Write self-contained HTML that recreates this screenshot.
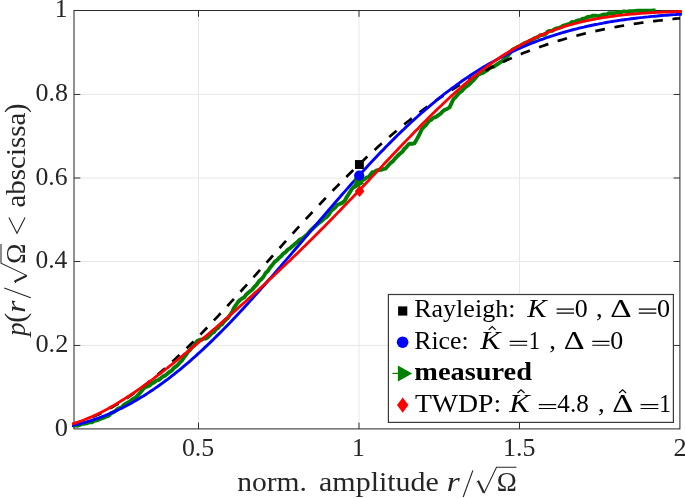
<!DOCTYPE html><html><head><meta charset="utf-8"><style>html,body{margin:0;padding:0;background:#fff}svg{display:block;position:absolute;left:0;top:0;will-change:transform}text{font-family:"Liberation Serif",serif}</style></head><body>
<svg width="685" height="498" viewBox="0 0 685 498">
<rect width="685" height="498" fill="#fff"/>
<defs><clipPath id="c"><rect x="72.0" y="7.5" width="609.9" height="423.4"/></clipPath></defs>
<path d="M198.50,10.5 V428.9 M359.00,10.5 V428.9 M519.50,10.5 V428.9 M74.0,345.45 H679.9 M74.0,261.50 H679.9 M74.0,178.00 H679.9 M74.0,94.45 H679.9" stroke="#e7e7e7" stroke-width="1" fill="none"/>
<path d="M198.50,428.9 v-6.3 M198.50,10.5 v6.3 M359.00,428.9 v-6.3 M359.00,10.5 v6.3 M519.50,428.9 v-6.3 M519.50,10.5 v6.3 M74.0,345.45 h6.3 M679.9,345.45 h-6.3 M74.0,261.50 h6.3 M679.9,261.50 h-6.3 M74.0,178.00 h6.3 M679.9,178.00 h-6.3 M74.0,94.45 h6.3 M679.9,94.45 h-6.3" stroke="#2e2e2e" stroke-width="1" fill="none"/>
<rect x="74.0" y="10.5" width="605.9" height="418.4" fill="none" stroke="#2e2e2e" stroke-width="1.05"/>
<g clip-path="url(#c)" fill="none" stroke-linejoin="round">
<path d="M72.5,426.2 L75.0,425.3 L77.5,425.7 L80.0,424.8 L82.4,423.7 L84.8,423.7 L87.1,423.3 L89.5,422.3 L91.9,422.3 L94.3,420.8 L96.6,420.3 L99.0,419.6 L101.5,418.4 L104.0,417.6 L106.5,416.4 L108.7,415.8 L110.8,413.4 L113.0,412.4 L115.2,411.2 L117.4,409.1 L119.6,408.0 L121.8,407.3 L124.0,404.8 L126.2,403.4 L128.4,402.3 L130.6,400.8 L132.8,399.0 L135.0,397.9 L137.2,395.8 L140.1,392.8 L143.0,389.2 L145.2,387.1 L147.4,386.6 L149.6,385.5 L151.8,383.4 L154.0,382.4 L156.2,380.7 L158.3,380.2 L160.5,378.6 L162.9,376.4 L165.2,375.6 L167.6,373.6 L170.0,371.6 L172.0,370.3 L174.0,367.8 L176.0,366.4 L178.0,364.8 L180.0,362.3 L182.0,360.4 L184.0,357.2 L186.0,354.9 L188.0,351.9 L190.0,350.0 L192.0,347.3 L194.0,345.8 L196.0,342.5 L198.0,340.5 L200.0,339.8 L202.0,339.7 L204.0,338.5 L206.0,338.5 L208.0,337.1 L210.0,335.2 L212.0,333.0 L214.0,332.0 L216.0,329.2 L218.0,328.0 L220.0,325.3 L222.0,324.4 L224.0,321.5 L226.0,319.5 L228.0,317.9 L230.0,315.0 L232.0,312.2 L234.0,307.8 L236.0,305.0 L238.0,302.0 L240.0,300.0 L242.0,298.5 L244.0,297.5 L246.0,294.8 L248.0,293.1 L250.1,291.3 L252.1,289.8 L254.1,287.2 L256.5,284.8 L258.9,281.3 L261.3,279.2 L263.7,276.4 L265.7,272.9 L267.8,271.1 L269.8,268.0 L272.2,265.1 L274.6,261.9 L276.8,260.3 L278.9,258.1 L281.1,256.2 L283.2,253.7 L285.4,252.3 L287.8,249.6 L290.2,248.1 L292.6,246.1 L295.0,243.9 L297.4,241.9 L299.9,239.5 L302.3,238.5 L304.7,236.6 L307.1,234.6 L309.5,231.6 L311.9,229.2 L314.3,227.0 L316.3,225.2 L318.3,223.5 L320.4,221.9 L322.4,220.5 L324.4,218.3 L326.4,217.3 L328.7,214.8 L331.0,211.0 L333.1,209.3 L335.1,207.6 L337.2,204.8 L339.6,204.0 L342.1,202.9 L344.5,201.2 L346.9,196.8 L349.3,193.2 L351.7,189.2 L354.1,186.4 L356.5,184.4 L358.9,181.9 L361.3,180.9 L363.8,179.6 L366.2,177.7 L368.6,177.1 L372.2,172.3 L374.4,172.0 L376.6,170.4 L378.8,170.0 L381.0,169.9 L383.2,169.1 L385.4,168.7 L387.8,166.0 L390.3,163.3 L392.7,161.4 L395.1,158.6 L397.5,156.0 L399.9,153.8 L402.3,151.8 L404.3,149.0 L406.3,147.1 L408.3,144.6 L410.3,143.6 L412.3,143.7 L414.3,143.4 L416.7,139.4 L419.2,135.0 L421.6,129.6 L424.0,126.8 L426.4,124.5 L428.8,121.1 L431.2,119.7 L433.6,117.6 L436.0,117.0 L438.4,115.1 L440.6,113.6 L442.9,111.2 L445.1,109.7 L447.4,108.7 L449.6,107.3 L453.5,99.0 L455.5,97.2 L457.6,94.8 L459.6,92.5 L461.7,91.2 L463.7,88.8 L466.1,86.5 L468.5,85.0 L471.0,82.5 L473.4,80.4 L475.8,77.6 L478.2,74.8 L480.6,73.5 L483.0,72.9 L485.4,71.2 L487.8,69.8 L489.8,67.8 L491.8,67.1 L493.9,66.6 L495.9,65.2 L497.9,63.8 L499.9,62.5 L502.3,61.1 L504.7,58.8 L507.1,56.5 L509.6,53.5 L512.0,50.2 L514.0,48.8 L516.0,48.2 L518.0,46.8 L520.0,46.2 L522.0,44.6 L524.0,43.5 L526.0,42.6 L528.0,42.1 L530.0,40.5 L532.0,39.8 L534.0,38.5 L536.0,37.7 L538.0,37.2 L540.0,35.3 L542.0,35.1 L544.0,34.6 L546.0,33.7 L548.0,31.4 L550.0,30.9 L552.2,30.8 L554.4,29.3 L556.6,28.3 L558.8,27.8 L561.0,27.2 L563.2,25.7 L565.3,25.2 L567.5,24.3 L569.6,23.9 L571.8,22.0 L573.9,22.5 L576.0,21.2 L578.2,20.4 L580.5,19.9 L582.8,18.7 L585.0,18.4 L587.6,17.0 L590.3,16.6 L593.1,15.7 L596.0,15.8 L598.2,16.1 L600.4,15.7 L602.6,14.7 L604.7,14.5 L606.8,14.6 L608.9,13.1 L611.0,13.2 L613.2,13.2 L615.5,12.9 L617.8,12.1 L620.0,11.9 L622.0,12.0 L624.0,11.4 L626.0,11.7 L628.0,11.5 L630.0,11.2 L632.5,11.1 L635.1,10.9 L637.6,10.8 L640.0,10.8 L642.3,10.7 L644.6,10.7 L647.0,10.6 L649.1,10.6 L651.2,10.6 L653.4,10.5 L655.5,10.5" stroke="#007f00" stroke-width="3.9"/>
<path d="M70.1,424.8 L72.5,424.2 L74.8,423.5 L77.2,422.8 L79.5,422.1 L81.9,421.3 L84.2,420.4 L86.6,419.5 L88.9,418.6 L91.3,417.6 L93.6,416.6 L96.0,415.6 L98.4,414.5 L100.7,413.3 L103.1,412.2 L105.4,410.9 L107.8,409.7 L110.1,408.4 L112.5,407.1 L114.8,405.7 L117.2,404.3 L119.6,402.8 L121.9,401.4 L124.3,399.9 L126.6,398.3 L129.0,396.7 L131.3,395.1 L133.7,393.4 L136.0,391.7 L138.4,390.0 L140.7,388.3 L143.1,386.5 L145.5,384.6 L147.8,382.8 L150.2,380.9 L152.5,379.0 L154.9,377.1 L157.2,375.1 L159.6,373.1 L161.9,371.1 L164.3,369.0 L166.6,366.9 L169.0,364.8 L171.4,362.7 L173.7,360.5 L176.1,358.3 L178.4,356.1 L180.8,353.9 L183.1,351.6 L185.5,349.4 L187.8,347.1 L190.2,344.8 L192.6,342.4 L194.9,340.1 L197.3,337.7 L199.6,335.3 L202.0,332.9 L204.3,330.5 L206.7,328.0 L209.0,325.6 L211.4,323.1 L213.7,320.6 L216.1,318.1 L218.5,315.6 L220.8,313.1 L223.2,310.6 L225.5,308.0 L227.9,305.5 L230.2,302.9 L232.6,300.3 L234.9,297.8 L237.3,295.2 L239.6,292.6 L242.0,290.0 L244.4,287.4 L246.7,284.8 L249.1,282.1 L251.4,279.5 L253.8,276.9 L256.1,274.3 L258.5,271.6 L260.8,269.0 L263.2,266.4 L265.6,263.7 L267.9,261.1 L270.3,258.5 L272.6,255.8 L275.0,253.2 L277.3,250.6 L279.7,248.0 L282.0,245.3 L284.4,242.7 L286.7,240.1 L289.1,237.5 L291.5,234.9 L293.8,232.3 L296.2,229.7 L298.5,227.1 L300.9,224.6 L303.2,222.0 L305.6,219.4 L307.9,216.9 L310.3,214.3 L312.6,211.8 L315.0,209.3 L317.4,206.8 L319.7,204.3 L322.1,201.8 L324.4,199.3 L326.8,196.9 L329.1,194.4 L331.5,192.0 L333.8,189.5 L336.2,187.1 L338.6,184.7 L340.9,182.3 L343.3,180.0 L345.6,177.6 L348.0,175.3 L350.3,173.0 L352.7,170.6 L355.0,168.3 L357.4,166.1 L359.7,163.8 L362.1,161.6 L364.5,159.3 L366.8,157.1 L369.2,154.9 L371.5,152.8 L373.9,150.6 L376.2,148.5 L378.6,146.3 L380.9,144.2 L383.3,142.1 L385.6,140.1 L388.0,138.0 L390.4,136.0 L392.7,134.0 L395.1,132.0 L397.4,130.0 L399.8,128.1 L402.1,126.1 L404.5,124.2 L406.8,122.3 L409.2,120.5 L411.5,118.6 L413.9,116.8 L416.3,115.0 L418.6,113.2 L421.0,111.4 L423.3,109.6 L425.7,107.9 L428.0,106.2 L430.4,104.5 L432.7,102.8 L435.1,101.2 L437.5,99.5 L439.8,97.9 L442.2,96.3 L444.5,94.8 L446.9,93.2 L449.2,91.7 L451.6,90.2 L453.9,88.7 L456.3,87.2 L458.6,85.7 L461.0,84.3 L463.4,82.9 L465.7,81.5 L468.1,80.1 L470.4,78.8 L472.8,77.4 L475.1,76.1 L477.5,74.8 L479.8,73.5 L482.2,72.3 L484.5,71.0 L486.9,69.8 L489.3,68.6 L491.6,67.4 L494.0,66.2 L496.3,65.1 L498.7,63.9 L501.0,62.8 L503.4,61.7 L505.7,60.7 L508.1,59.6 L510.5,58.6 L512.8,57.5 L515.2,56.5 L517.5,55.5 L519.9,54.5 L522.2,53.6 L524.6,52.6 L526.9,51.7 L529.3,50.8 L531.6,49.9 L534.0,49.0 L536.4,48.2 L538.7,47.3 L541.1,46.5 L543.4,45.7 L545.8,44.9 L548.1,44.1 L550.5,43.3 L552.8,42.5 L555.2,41.8 L557.5,41.1 L559.9,40.4 L562.3,39.7 L564.6,39.0 L567.0,38.3 L569.3,37.6 L571.7,37.0 L574.0,36.3 L576.4,35.7 L578.7,35.1 L581.1,34.5 L583.5,33.9 L585.8,33.3 L588.2,32.8 L590.5,32.2 L592.9,31.7 L595.2,31.2 L597.6,30.6 L599.9,30.1 L602.3,29.6 L604.6,29.1 L607.0,28.7 L609.4,28.2 L611.7,27.8 L614.1,27.3 L616.4,26.9 L618.8,26.4 L621.1,26.0 L623.5,25.6 L625.8,25.2 L628.2,24.8 L630.5,24.5 L632.9,24.1 L635.3,23.7 L637.6,23.4 L640.0,23.0 L642.3,22.7 L644.7,22.4 L647.0,22.0 L649.4,21.7 L651.7,21.4 L654.1,21.1 L656.5,20.8 L658.8,20.5 L661.2,20.3 L663.5,20.0 L665.9,19.7 L668.2,19.5 L670.6,19.2 L672.9,19.0 L675.3,18.7 L677.6,18.5 L680.0,18.3" stroke="#000" stroke-width="2.7" stroke-dasharray="9.8 9.73" stroke-dashoffset="-4.2"/>
<path d="M70.1,425.9 L72.5,425.5 L74.8,424.9 L77.2,424.4 L79.6,423.8 L81.9,423.2 L84.3,422.6 L86.7,421.9 L89.0,421.2 L91.4,420.5 L93.8,419.7 L96.1,418.9 L98.5,418.1 L100.9,417.2 L103.2,416.3 L105.6,415.4 L108.0,414.4 L110.3,413.4 L112.7,412.3 L115.1,411.3 L117.4,410.2 L119.8,409.0 L122.2,407.9 L124.5,406.7 L126.9,405.4 L129.3,404.2 L131.6,402.9 L134.0,401.5 L136.4,400.2 L138.7,398.8 L141.1,397.3 L143.5,395.9 L145.9,394.4 L148.2,392.9 L150.6,391.3 L153.0,389.7 L155.3,388.1 L157.7,386.5 L160.1,384.8 L162.4,383.1 L164.8,381.3 L167.2,379.6 L169.5,377.8 L171.9,375.9 L174.3,374.1 L176.6,372.2 L179.0,370.3 L181.4,368.3 L183.7,366.3 L186.1,364.3 L188.5,362.3 L190.8,360.3 L193.2,358.2 L195.6,356.1 L197.9,353.9 L200.3,351.8 L202.7,349.6 L205.0,347.4 L207.4,345.1 L209.8,342.9 L212.1,340.6 L214.5,338.3 L216.9,335.9 L219.2,333.6 L221.6,331.2 L224.0,328.8 L226.3,326.4 L228.7,323.9 L231.1,321.5 L233.4,319.0 L235.8,316.5 L238.2,314.0 L240.5,311.4 L242.9,308.9 L245.3,306.3 L247.6,303.7 L250.0,301.1 L252.4,298.5 L254.7,295.9 L257.1,293.2 L259.5,290.6 L261.8,287.9 L264.2,285.2 L266.6,282.5 L268.9,279.8 L271.3,277.1 L273.7,274.4 L276.0,271.6 L278.4,268.9 L280.8,266.2 L283.1,263.4 L285.5,260.6 L287.9,257.9 L290.3,255.1 L292.6,252.3 L295.0,249.5 L297.4,246.8 L299.7,244.0 L302.1,241.2 L304.5,238.4 L306.8,235.6 L309.2,232.8 L311.6,230.1 L313.9,227.3 L316.3,224.5 L318.7,221.7 L321.0,218.9 L323.4,216.2 L325.8,213.4 L328.1,210.7 L330.5,207.9 L332.9,205.2 L335.2,202.4 L337.6,199.7 L340.0,197.0 L342.3,194.3 L344.7,191.6 L347.1,188.9 L349.4,186.2 L351.8,183.6 L354.2,180.9 L356.5,178.3 L358.9,175.7 L361.3,173.1 L363.6,170.5 L366.0,167.9 L368.4,165.3 L370.7,162.8 L373.1,160.3 L375.5,157.8 L377.8,155.3 L380.2,152.8 L382.6,150.4 L384.9,147.9 L387.3,145.5 L389.7,143.1 L392.0,140.7 L394.4,138.4 L396.8,136.0 L399.1,133.7 L401.5,131.4 L403.9,129.2 L406.2,126.9 L408.6,124.7 L411.0,122.5 L413.3,120.3 L415.7,118.2 L418.1,116.0 L420.4,113.9 L422.8,111.9 L425.2,109.8 L427.6,107.8 L429.9,105.8 L432.3,103.8 L434.7,101.8 L437.0,99.9 L439.4,98.0 L441.8,96.1 L444.1,94.2 L446.5,92.4 L448.9,90.6 L451.2,88.8 L453.6,87.1 L456.0,85.4 L458.3,83.6 L460.7,82.0 L463.1,80.3 L465.4,78.7 L467.8,77.1 L470.2,75.5 L472.5,74.0 L474.9,72.5 L477.3,71.0 L479.6,69.5 L482.0,68.0 L484.4,66.6 L486.7,65.2 L489.1,63.8 L491.5,62.5 L493.8,61.2 L496.2,59.9 L498.6,58.6 L500.9,57.4 L503.3,56.1 L505.7,54.9 L508.0,53.8 L510.4,52.6 L512.8,51.5 L515.1,50.4 L517.5,49.3 L519.9,48.2 L522.2,47.2 L524.6,46.2 L527.0,45.2 L529.3,44.2 L531.7,43.2 L534.1,42.3 L536.4,41.4 L538.8,40.5 L541.2,39.6 L543.5,38.8 L545.9,37.9 L548.3,37.1 L550.6,36.3 L553.0,35.6 L555.4,34.8 L557.7,34.1 L560.1,33.3 L562.5,32.6 L564.8,32.0 L567.2,31.3 L569.6,30.6 L572.0,30.0 L574.3,29.4 L576.7,28.8 L579.1,28.2 L581.4,27.6 L583.8,27.1 L586.2,26.5 L588.5,26.0 L590.9,25.5 L593.3,25.0 L595.6,24.5 L598.0,24.1 L600.4,23.6 L602.7,23.2 L605.1,22.7 L607.5,22.3 L609.8,21.9 L612.2,21.5 L614.6,21.1 L616.9,20.8 L619.3,20.4 L621.7,20.0 L624.0,19.7 L626.4,19.4 L628.8,19.1 L631.1,18.8 L633.5,18.5 L635.9,18.2 L638.2,17.9 L640.6,17.6 L643.0,17.4 L645.3,17.1 L647.7,16.9 L650.1,16.6 L652.4,16.4 L654.8,16.2 L657.2,16.0 L659.5,15.7 L661.9,15.5 L664.3,15.4 L666.6,15.2 L669.0,15.0 L671.4,14.8 L673.7,14.6 L676.1,14.5 L678.5,14.3 L680.8,14.2 L683.2,14.0" stroke="#0000ff" stroke-width="2.9"/>
<path d="M70.1,424.5 L72.5,423.8 L74.8,423.1 L77.2,422.3 L79.6,421.5 L81.9,420.7 L84.3,419.8 L86.7,418.8 L89.0,417.9 L91.4,416.9 L93.8,415.8 L96.1,414.7 L98.5,413.6 L100.9,412.4 L103.2,411.2 L105.6,409.9 L108.0,408.7 L110.3,407.3 L112.7,406.0 L115.1,404.6 L117.4,403.2 L119.8,401.8 L122.2,400.3 L124.5,398.8 L126.9,397.3 L129.3,395.8 L131.6,394.2 L134.0,392.6 L136.4,391.0 L138.7,389.3 L141.1,387.6 L143.5,386.0 L145.9,384.3 L148.2,382.5 L150.6,380.8 L153.0,379.0 L155.3,377.2 L157.7,375.4 L160.1,373.6 L162.4,371.8 L164.8,369.9 L167.2,368.1 L169.5,366.2 L171.9,364.3 L174.3,362.4 L176.6,360.5 L179.0,358.6 L181.4,356.7 L183.7,354.7 L186.1,352.8 L188.5,350.8 L190.8,348.9 L193.2,346.9 L195.6,344.9 L197.9,342.9 L200.3,340.9 L202.7,338.9 L205.0,336.9 L207.4,334.9 L209.8,332.8 L212.1,330.8 L214.5,328.8 L216.9,326.7 L219.2,324.7 L221.6,322.6 L224.0,320.5 L226.3,318.5 L228.7,316.4 L231.1,314.3 L233.4,312.2 L235.8,310.1 L238.2,308.0 L240.5,305.9 L242.9,303.8 L245.3,301.7 L247.6,299.6 L250.0,297.4 L252.4,295.3 L254.7,293.1 L257.1,291.0 L259.5,288.8 L261.8,286.7 L264.2,284.5 L266.6,282.3 L268.9,280.1 L271.3,277.9 L273.7,275.7 L276.0,273.5 L278.4,271.3 L280.8,269.0 L283.1,266.8 L285.5,264.6 L287.9,262.3 L290.3,260.1 L292.6,257.8 L295.0,255.5 L297.4,253.2 L299.7,250.9 L302.1,248.6 L304.5,246.3 L306.8,244.0 L309.2,241.6 L311.6,239.3 L313.9,236.9 L316.3,234.6 L318.7,232.2 L321.0,229.8 L323.4,227.4 L325.8,225.0 L328.1,222.6 L330.5,220.2 L332.9,217.8 L335.2,215.4 L337.6,212.9 L340.0,210.5 L342.3,208.0 L344.7,205.6 L347.1,203.1 L349.4,200.6 L351.8,198.2 L354.2,195.7 L356.5,193.2 L358.9,190.7 L361.3,188.2 L363.6,185.7 L366.0,183.2 L368.4,180.7 L370.7,178.1 L373.1,175.6 L375.5,173.1 L377.8,170.6 L380.2,168.1 L382.6,165.6 L384.9,163.0 L387.3,160.5 L389.7,158.0 L392.0,155.5 L394.4,153.0 L396.8,150.5 L399.1,148.0 L401.5,145.5 L403.9,143.0 L406.2,140.6 L408.6,138.1 L411.0,135.7 L413.3,133.2 L415.7,130.8 L418.1,128.4 L420.4,125.9 L422.8,123.5 L425.2,121.2 L427.6,118.8 L429.9,116.4 L432.3,114.1 L434.7,111.8 L437.0,109.5 L439.4,107.2 L441.8,105.0 L444.1,102.7 L446.5,100.5 L448.9,98.3 L451.2,96.1 L453.6,94.0 L456.0,91.9 L458.3,89.8 L460.7,87.7 L463.1,85.6 L465.4,83.6 L467.8,81.6 L470.2,79.7 L472.5,77.7 L474.9,75.8 L477.3,73.9 L479.6,72.1 L482.0,70.3 L484.4,68.5 L486.7,66.7 L489.1,65.0 L491.5,63.3 L493.8,61.6 L496.2,60.0 L498.6,58.4 L500.9,56.8 L503.3,55.3 L505.7,53.8 L508.0,52.3 L510.4,50.9 L512.8,49.5 L515.1,48.1 L517.5,46.8 L519.9,45.4 L522.2,44.2 L524.6,42.9 L527.0,41.7 L529.3,40.5 L531.7,39.4 L534.1,38.3 L536.4,37.2 L538.8,36.1 L541.2,35.1 L543.5,34.1 L545.9,33.1 L548.3,32.2 L550.6,31.3 L553.0,30.4 L555.4,29.6 L557.7,28.7 L560.1,28.0 L562.5,27.2 L564.8,26.4 L567.2,25.7 L569.6,25.0 L572.0,24.4 L574.3,23.7 L576.7,23.1 L579.1,22.5 L581.4,21.9 L583.8,21.4 L586.2,20.9 L588.5,20.4 L590.9,19.9 L593.3,19.4 L595.6,19.0 L598.0,18.5 L600.4,18.1 L602.7,17.7 L605.1,17.3 L607.5,17.0 L609.8,16.6 L612.2,16.3 L614.6,16.0 L616.9,15.7 L619.3,15.4 L621.7,15.1 L624.0,14.9 L626.4,14.6 L628.8,14.4 L631.1,14.2 L633.5,14.0 L635.9,13.8 L638.2,13.6 L640.6,13.4 L643.0,13.2 L645.3,13.1 L647.7,12.9 L650.1,12.8 L652.4,12.6 L654.8,12.5 L657.2,12.4 L659.5,12.3 L661.9,12.2 L664.3,12.1 L666.6,12.0 L669.0,11.9 L671.4,11.8 L673.7,11.7 L676.1,11.6 L678.5,11.6 L680.8,11.5 L683.2,11.4" stroke="#ff0000" stroke-width="2.8"/>
</g>
<path d="M354.4,177.3 L364.4,183.3 L354.4,189.3Z" fill="#007f00"/>
<rect x="354.95" y="160.07" width="8.9" height="8.9" fill="#000"/>
<circle cx="359.2" cy="175.6" r="5.1" fill="#0000ff"/>
<path d="M359.6,185.4 L364.4,191.2 L359.6,197.0 L354.8,191.2Z" fill="#ff0000"/>
<text transform="translate(181.92,456.00) scale(1.0578,1)" font-size="24.5" fill="#262626"  >0.5</text>
<text transform="translate(351.88,456.00) scale(1.0406,1)" font-size="24.5" fill="#262626"  >1</text>
<text transform="translate(502.94,456.00) scale(1.0604,1)" font-size="24.5" fill="#262626"  >1.5</text>
<text transform="translate(673.57,456.00) scale(1.0763,1)" font-size="24.5" fill="#262626"  >2</text>
<text transform="translate(54.80,435.50) scale(1.0782,1)" font-size="24.5" fill="#262626"  >0</text>
<text transform="translate(35.40,351.80) scale(1.0760,1)" font-size="24.5" fill="#262626"  >0.2</text>
<text transform="translate(35.43,268.10) scale(1.0400,1)" font-size="24.5" fill="#262626"  >0.4</text>
<text transform="translate(35.42,184.50) scale(1.0523,1)" font-size="24.5" fill="#262626"  >0.6</text>
<text transform="translate(35.41,100.80) scale(1.0604,1)" font-size="24.5" fill="#262626"  >0.8</text>
<text transform="translate(54.78,17.10) scale(1.0406,1)" font-size="24.5" fill="#262626"  >1</text>
<text transform="translate(237.15,490.90) scale(1.1068,1)" font-size="26.7" fill="#262626"  >norm.</text>
<text transform="translate(319.05,490.90) scale(1.1226,1)" font-size="26.7" fill="#262626"  >amplitude</text>
<g transform="translate(0,490.9)">
<text transform="translate(446.76,0.00) scale(1.2520,1)" font-size="26.7" fill="#262626" font-style="italic" >r</text>
<path d="M463.20,6.10 L472.88,-20.50" stroke="#262626" stroke-width="1.15" fill="none"/>
<path d="M476.60,-8.8 L478.50,-10.2" stroke="#262626" stroke-width="1.0" fill="none"/><path d="M478.20,-10.0 L483.80,1.9" stroke="#262626" stroke-width="2.2" fill="none"/><path d="M484.00,2.4 L496.50,-23.7 L516.40,-23.7" stroke="#262626" stroke-width="1.05" fill="none" stroke-linejoin="miter"/>
<text transform="translate(496.72,0.00) scale(1.0108,1)" font-size="26.7" fill="#262626"  >Ω</text>
</g>
<g transform="translate(24.7,337.5) rotate(-90)">
<text transform="translate(1.61,0.00) scale(1.0195,1)" font-size="26.7" fill="#262626" font-style="italic" >p</text>
<text transform="translate(14.72,0.40) scale(1.1178,1.13)" font-size="26.7" fill="#262626"  >(</text>
<text transform="translate(24.75,0.00) scale(1.1671,1)" font-size="26.7" fill="#262626" font-style="italic" >r</text>
<path d="M39.80,6.10 L49.48,-20.50" stroke="#262626" stroke-width="1.15" fill="none"/>
<path d="M54.50,-8.8 L56.40,-10.2" stroke="#262626" stroke-width="1.0" fill="none"/><path d="M56.10,-10.0 L61.70,1.9" stroke="#262626" stroke-width="2.2" fill="none"/><path d="M61.90,2.4 L74.40,-23.7 L93.60,-23.7" stroke="#262626" stroke-width="1.05" fill="none" stroke-linejoin="miter"/>
<text transform="translate(73.59,0.00) scale(1.0342,1)" font-size="26.7" fill="#262626"  >Ω</text>
<path d="M120.0,-15.8 L104.2,-7.7 L120.0,0.4" stroke="#262626" stroke-width="1.1" fill="none" stroke-linejoin="miter"/>
<text transform="translate(129.89,0.00) scale(1.0857,1)" font-size="26.7" fill="#262626"  >abscissa</text>
<text transform="translate(224.59,0.40) scale(1.0597,1.13)" font-size="26.7" fill="#262626"  >)</text>
</g>
<rect x="388.4" y="294.5" width="285.0" height="127.89999999999998" fill="#fff" stroke="#3a3a3a" stroke-width="1.2"/>
<rect x="398.1" y="306.4" width="9.2" height="9.2" fill="#000"/>
<text transform="translate(414.17,317.00) scale(1.0426,1)" font-size="25" fill="#000"  >Rayleigh:</text>
<text transform="translate(527.35,317.00) scale(1.1634,1)" font-size="25" fill="#000" font-style="italic" >K</text>
<path d="M556.6,309.15 H574.0 M556.6,313.05 H574.0" stroke="#000" stroke-width="1.15" fill="none"/>
<text transform="translate(574.81,317.00) scale(1.0377,1)" font-size="25" fill="#000"  >0</text>
<text transform="translate(596.09,317.00) scale(1.0667,1)" font-size="25" fill="#000"  >,</text>
<text transform="translate(610.14,317.00) scale(1.3310,1)" font-size="25" fill="#000"  >Δ</text>
<path d="M638.8,309.15 H656.3 M638.8,313.05 H656.3" stroke="#000" stroke-width="1.15" fill="none"/>
<text transform="translate(657.11,317.00) scale(1.0472,1)" font-size="25" fill="#000"  >0</text>
<circle cx="402.6" cy="342.2" r="5.8" fill="#0000ff"/>
<text transform="translate(414.28,349.20) scale(1.0310,1)" font-size="25" fill="#000"  >Rice:</text>
<text transform="translate(480.26,349.20) scale(1.2133,1)" font-size="25" fill="#000" font-style="italic" >K</text>
<path d="M488.7,329.8 L492.2,326.6 L495.7,329.8" stroke="#000" stroke-width="1.1" fill="none"/>
<path d="M509.7,341.35 H527.2 M509.7,345.25 H527.2" stroke="#000" stroke-width="1.15" fill="none"/>
<text transform="translate(528.63,349.20) scale(0.9065,1)" font-size="25" fill="#000"  >1</text>
<text transform="translate(549.29,349.20) scale(1.0667,1)" font-size="25" fill="#000"  >,</text>
<text transform="translate(563.67,349.20) scale(1.2958,1)" font-size="25" fill="#000"  >Δ</text>
<path d="M592.3,341.35 H609.5 M592.3,345.25 H609.5" stroke="#000" stroke-width="1.15" fill="none"/>
<text transform="translate(610.31,349.20) scale(1.0377,1)" font-size="25" fill="#000"  >0</text>
<path d="M392.4,373.4 H399" stroke="#007f00" stroke-width="1.2"/>
<path d="M397.9,365.6 L412.2,373.4 L397.9,381.4Z" fill="#007f00"/>
<text transform="translate(414.36,380.00) scale(1.1345,1)" font-size="25" fill="#000" font-weight="bold" >measured</text>
<path d="M402.7,397.4 L408.4,405.1 L402.7,412.8 L397.0,405.1Z" fill="#ff0000"/>
<text transform="translate(414.90,412.40) scale(1.1102,1)" font-size="25" fill="#000"  >TWDP:</text>
<text transform="translate(509.27,412.40) scale(1.2188,1)" font-size="25" fill="#000" font-style="italic" >K</text>
<path d="M517.5,393.0 L521.0,389.8 L524.5,393.0" stroke="#000" stroke-width="1.1" fill="none"/>
<path d="M538.8,404.55 H556.2 M538.8,408.45 H556.2" stroke="#000" stroke-width="1.15" fill="none"/>
<text transform="translate(557.32,412.40) scale(1.0059,1)" font-size="25" fill="#000"  >4.8</text>
<text transform="translate(597.89,412.40) scale(1.0667,1)" font-size="25" fill="#000"  >,</text>
<text transform="translate(612.16,412.40) scale(1.3099,1)" font-size="25" fill="#000"  >Δ</text>
<path d="M619.1,393.0 L622.6,389.8 L626.1,393.0" stroke="#000" stroke-width="1.1" fill="none"/>
<path d="M640.6,404.55 H658.3 M640.6,408.45 H658.3" stroke="#000" stroke-width="1.15" fill="none"/>
<text transform="translate(659.28,412.40) scale(0.9292,1)" font-size="25" fill="#000"  >1</text>
</svg></body></html>
